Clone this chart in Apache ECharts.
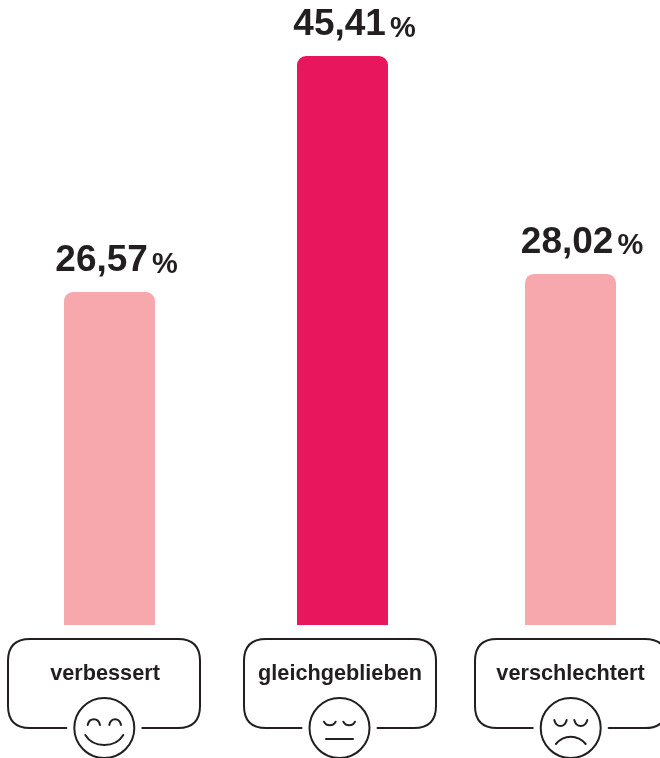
<!DOCTYPE html>
<html>
<head>
<meta charset="utf-8">
<style>html,body{margin:0;padding:0;background:#fff}#c{width:660px;height:758px}</style>
<script src="https://cdn.jsdelivr.net/npm/echarts@6/dist/echarts.min.js"></script>
</head>
<body>
<div id="c"></div>
<script>
const categories = ['verbessert', 'gleichgeblieben', 'verschlechtert'];
const values = [26.57, 45.41, 28.02];
const valueLabels = ['26,57', '45,41', '28,02'];
const barColors = ['#f6a8ad', '#e8175d', '#f6a8ad'];

const INK = '#231f20';
const barLefts = [64, 297, 525];
const labelShift = [7, 12, 11.5];
const catPadRight = [9, 5, 0];
const boxes = [[8, 104.3], [244, 339.5], [475, 570.7]];
// each stroke: x1,y1, cp1 x,y, cp2 x,y, x2,y2 (relative to the face centre)
const faces = [
  [[-16.6,-3,-15,-10.6,-6,-10.6,-4.3,-3],[5,-3,6.5,-10.6,15.2,-10.6,16.7,-3],[-19,7,-11,20.3,11,20.3,19,7]],
  [[-15.5,-6.3,-13.5,-1.5,-6,-1.5,-3.8,-6.3],[3.8,-6.3,6,-1.5,13.5,-1.5,15.5,-6.3],[-13.5,11,-5,11,5,11,13.5,11]],
  [[-16.4,-8,-14.5,0,-6,0,-4,-8],[3.6,-8,5.5,0,14.5,0,16.6,-8],[-14.8,16,-7,6.3,7,6.3,15,16]]
];

const grids = [], xAxes = [], yAxes = [], series = [], graphics = [];
const stroke = { stroke: INK, fill: 'none', lineWidth: 2, lineCap: 'round' };
function cubic(x1, y1, a, b, c, d, x2, y2) {
  graphics.push({ type: 'bezierCurve', silent: true, style: stroke,
    shape: { x1, y1, cpx1: a, cpy1: b, cpx2: c, cpy2: d, x2, y2 } });
}
function curve(x1, y1, cx, cy, x2, y2) {
  graphics.push({ type: 'bezierCurve', silent: true, style: stroke,
    shape: { x1, y1, cpx1: cx, cpy1: cy, x2, y2 } });
}
function seg(x1, y1, x2, y2) {
  graphics.push({ type: 'line', silent: true, style: stroke, shape: { x1, y1, x2, y2 } });
}
categories.forEach((name, i) => {
  grids.push({ left: barLefts[i], top: 56, width: 91, height: 569 });
  xAxes.push({
    type: 'category', gridIndex: i, data: [name],
    axisLine: { show: false }, axisTick: { show: false },
    axisLabel: {
      interval: 0, margin: 37, fontFamily: 'Liberation Sans', fontWeight: 'bold',
      fontSize: 21.7, color: INK, lineHeight: 24, padding: [0, catPadRight[i], 0, 0]
    }
  });
  yAxes.push({ type: 'value', gridIndex: i, min: 0, max: 45.41, show: false });
  series.push({
    type: 'bar', xAxisIndex: i, yAxisIndex: i, barWidth: 91, silent: true,
    itemStyle: { color: barColors[i], borderRadius: [9, 9, 0, 0] },
    label: {
      show: true, position: 'top', distance: 13, offset: [labelShift[i], 0],
      formatter: () => '{v|' + valueLabels[i] + '}{p|%}',
      rich: {
        v: { fontFamily: 'Liberation Sans', fontWeight: 'bold', fontSize: 37, color: INK },
        p: { fontFamily: 'Liberation Sans', fontWeight: 'bold', fontSize: 29, color: INK, padding: [8, 0, 0, 4] }
      }
    },
    data: [values[i]]
  });

  const x = boxes[i][0], c = boxes[i][1], r = 22, w = 192, t = 639, b = 728;
  seg(c - 38, b, x + r, b);
  curve(x + r, b, x, b, x, b - r);
  seg(x, b - r, x, t + r);
  curve(x, t + r, x, t, x + r, t);
  seg(x + r, t, x + w - r, t);
  curve(x + w - r, t, x + w, t, x + w, t + r);
  seg(x + w, t + r, x + w, b - r);
  curve(x + w, b - r, x + w, b, x + w - r, b);
  seg(x + w - r, b, c + 38, b);
  graphics.push({ type: 'circle', silent: true, style: stroke, shape: { cx: c, cy: b, r: 30 } });
  faces[i].forEach(f => cubic(c + f[0], b + f[1], c + f[2], b + f[3], c + f[4], b + f[5], c + f[6], b + f[7]));
});

const chart = echarts.init(document.getElementById('c'), null, { renderer: 'canvas' });
chart.setOption({
  animation: false,
  grid: grids, xAxis: xAxes, yAxis: yAxes, series,
  graphic: { elements: graphics }
});
</script>
</body>
</html>
